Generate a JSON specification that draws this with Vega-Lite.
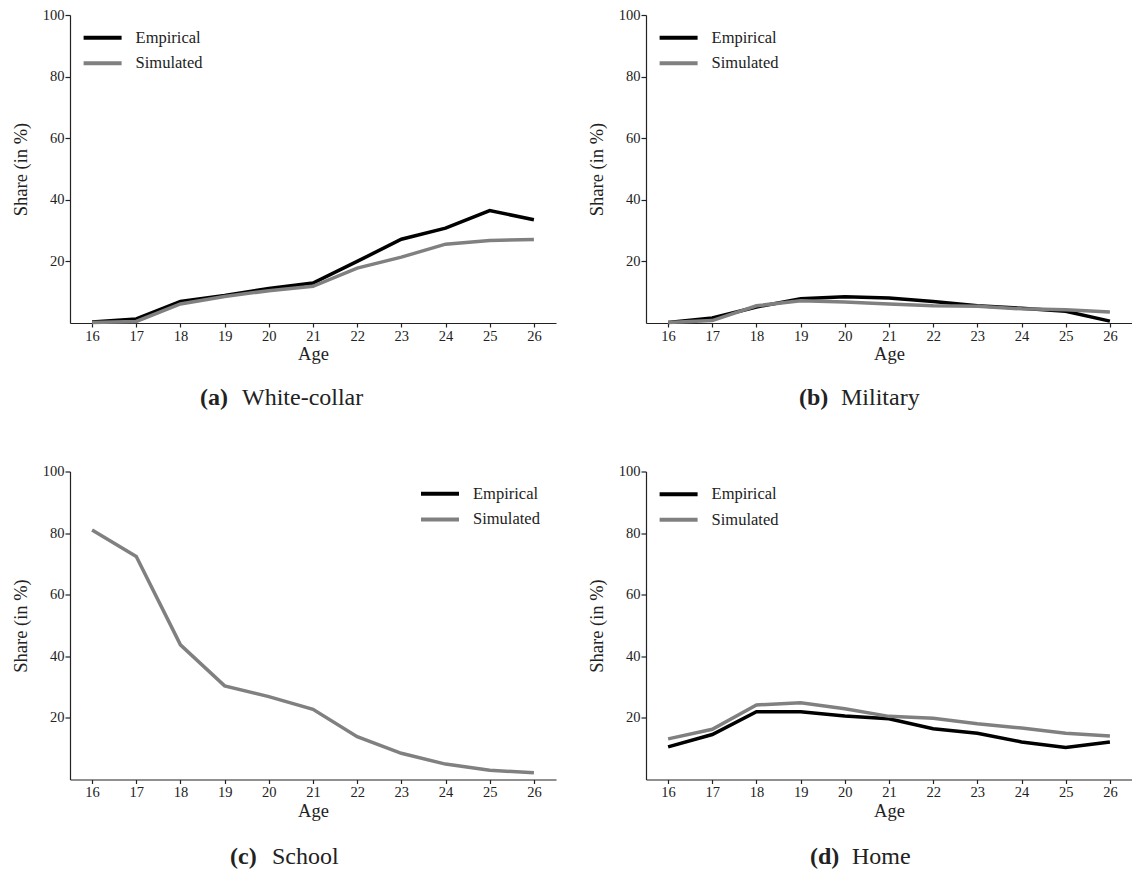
{
  "$schema": "https://vega.github.io/schema/vega-lite/v6.json",
  "padding": {"left": 11, "top": 7, "right": 0, "bottom": 0},
  "background": "white",
  "config": {
    "view": {"stroke": null},
    "font": "Liberation Serif",
    "axis": {
      "grid": false,
      "domainColor": "#222",
      "tickColor": "#222",
      "labelColor": "#222",
      "titleColor": "#222",
      "labelFont": "Liberation Serif",
      "titleFont": "Liberation Serif",
      "labelFontSize": 14.5,
      "titleFontSize": 18.5,
      "titleFontWeight": "normal",
      "domainWidth": 1.2,
      "tickWidth": 1.2
    },
    "axisX": {"tickSize": 4, "labelPadding": 2, "titlePadding": 2},
    "axisY": {"tickSize": 5, "labelPadding": 1, "titlePadding": 12},
    "legend": {
      "labelFont": "Liberation Serif",
      "labelFontSize": 16.5,
      "labelColor": "#222",
      "symbolType": "stroke",
      "symbolSize": 1444,
      "symbolStrokeWidth": 4,
      "labelOffset": 12,
      "padding": 0,
      "clipHeight": 20,
      "rowPadding": 5.6,
      "title": null
    },
    "title": {
      "font": "Liberation Serif",
      "subtitleFont": "Liberation Serif",
      "fontSize": 24,
      "subtitleFontSize": 24,
      "fontWeight": "bold",
      "subtitleFontWeight": "normal",
      "color": "#222",
      "subtitleColor": "#222"
    }
  },
  "datasets": {
    "shares": [
      {"panel": "White-collar", "series": "Empirical", "age": 16, "share": 0.3},
      {"panel": "White-collar", "series": "Empirical", "age": 17, "share": 1.3},
      {"panel": "White-collar", "series": "Empirical", "age": 18, "share": 7.0},
      {"panel": "White-collar", "series": "Empirical", "age": 19, "share": 8.9},
      {"panel": "White-collar", "series": "Empirical", "age": 20, "share": 11.2},
      {"panel": "White-collar", "series": "Empirical", "age": 21, "share": 13.0},
      {"panel": "White-collar", "series": "Empirical", "age": 22, "share": 20.0},
      {"panel": "White-collar", "series": "Empirical", "age": 23, "share": 27.2},
      {"panel": "White-collar", "series": "Empirical", "age": 24, "share": 30.8},
      {"panel": "White-collar", "series": "Empirical", "age": 25, "share": 36.5},
      {"panel": "White-collar", "series": "Empirical", "age": 26, "share": 33.5},
      {"panel": "White-collar", "series": "Simulated", "age": 16, "share": 0.2},
      {"panel": "White-collar", "series": "Simulated", "age": 17, "share": 0.5},
      {"panel": "White-collar", "series": "Simulated", "age": 18, "share": 6.2},
      {"panel": "White-collar", "series": "Simulated", "age": 19, "share": 8.6},
      {"panel": "White-collar", "series": "Simulated", "age": 20, "share": 10.5},
      {"panel": "White-collar", "series": "Simulated", "age": 21, "share": 11.9},
      {"panel": "White-collar", "series": "Simulated", "age": 22, "share": 17.8},
      {"panel": "White-collar", "series": "Simulated", "age": 23, "share": 21.4},
      {"panel": "White-collar", "series": "Simulated", "age": 24, "share": 25.6},
      {"panel": "White-collar", "series": "Simulated", "age": 25, "share": 26.8},
      {"panel": "White-collar", "series": "Simulated", "age": 26, "share": 27.1},
      {"panel": "Military", "series": "Empirical", "age": 16, "share": 0.2},
      {"panel": "Military", "series": "Empirical", "age": 17, "share": 1.6},
      {"panel": "Military", "series": "Empirical", "age": 18, "share": 5.2},
      {"panel": "Military", "series": "Empirical", "age": 19, "share": 7.9},
      {"panel": "Military", "series": "Empirical", "age": 20, "share": 8.5},
      {"panel": "Military", "series": "Empirical", "age": 21, "share": 8.1},
      {"panel": "Military", "series": "Empirical", "age": 22, "share": 7.0},
      {"panel": "Military", "series": "Empirical", "age": 23, "share": 5.6},
      {"panel": "Military", "series": "Empirical", "age": 24, "share": 4.8},
      {"panel": "Military", "series": "Empirical", "age": 25, "share": 3.8},
      {"panel": "Military", "series": "Empirical", "age": 26, "share": 0.6},
      {"panel": "Military", "series": "Simulated", "age": 16, "share": 0.2},
      {"panel": "Military", "series": "Simulated", "age": 17, "share": 0.8},
      {"panel": "Military", "series": "Simulated", "age": 18, "share": 5.6},
      {"panel": "Military", "series": "Simulated", "age": 19, "share": 7.2},
      {"panel": "Military", "series": "Simulated", "age": 20, "share": 6.8},
      {"panel": "Military", "series": "Simulated", "age": 21, "share": 6.2},
      {"panel": "Military", "series": "Simulated", "age": 22, "share": 5.6},
      {"panel": "Military", "series": "Simulated", "age": 23, "share": 5.4},
      {"panel": "Military", "series": "Simulated", "age": 24, "share": 4.6},
      {"panel": "Military", "series": "Simulated", "age": 25, "share": 4.3},
      {"panel": "Military", "series": "Simulated", "age": 26, "share": 3.6},
      {"panel": "School", "series": "Simulated", "age": 16, "share": 81.0},
      {"panel": "School", "series": "Simulated", "age": 17, "share": 72.4},
      {"panel": "School", "series": "Simulated", "age": 18, "share": 43.7},
      {"panel": "School", "series": "Simulated", "age": 19, "share": 30.4},
      {"panel": "School", "series": "Simulated", "age": 20, "share": 26.9},
      {"panel": "School", "series": "Simulated", "age": 21, "share": 22.8},
      {"panel": "School", "series": "Simulated", "age": 22, "share": 13.9},
      {"panel": "School", "series": "Simulated", "age": 23, "share": 8.5},
      {"panel": "School", "series": "Simulated", "age": 24, "share": 5.0},
      {"panel": "School", "series": "Simulated", "age": 25, "share": 3.0},
      {"panel": "School", "series": "Simulated", "age": 26, "share": 2.2},
      {"panel": "Home", "series": "Empirical", "age": 16, "share": 10.6},
      {"panel": "Home", "series": "Empirical", "age": 17, "share": 14.6},
      {"panel": "Home", "series": "Empirical", "age": 18, "share": 22.0},
      {"panel": "Home", "series": "Empirical", "age": 19, "share": 22.0},
      {"panel": "Home", "series": "Empirical", "age": 20, "share": 20.6},
      {"panel": "Home", "series": "Empirical", "age": 21, "share": 19.7},
      {"panel": "Home", "series": "Empirical", "age": 22, "share": 16.5},
      {"panel": "Home", "series": "Empirical", "age": 23, "share": 15.0},
      {"panel": "Home", "series": "Empirical", "age": 24, "share": 12.2},
      {"panel": "Home", "series": "Empirical", "age": 25, "share": 10.4},
      {"panel": "Home", "series": "Empirical", "age": 26, "share": 12.2},
      {"panel": "Home", "series": "Simulated", "age": 16, "share": 13.2},
      {"panel": "Home", "series": "Simulated", "age": 17, "share": 16.3},
      {"panel": "Home", "series": "Simulated", "age": 18, "share": 24.2},
      {"panel": "Home", "series": "Simulated", "age": 19, "share": 24.9},
      {"panel": "Home", "series": "Simulated", "age": 20, "share": 23.0},
      {"panel": "Home", "series": "Simulated", "age": 21, "share": 20.5},
      {"panel": "Home", "series": "Simulated", "age": 22, "share": 19.9},
      {"panel": "Home", "series": "Simulated", "age": 23, "share": 18.1},
      {"panel": "Home", "series": "Simulated", "age": 24, "share": 16.7},
      {"panel": "Home", "series": "Simulated", "age": 25, "share": 15.0},
      {"panel": "Home", "series": "Simulated", "age": 26, "share": 14.1}
    ]
  },
  "columns": 2,
  "spacing": {"row": 148.5, "column": 90},
  "bounds": "flush",
  "resolve": {"scale": {"color": "independent", "x": "independent", "y": "independent"}, "legend": {"color": "independent"}},
  "concat": [
    {
      "width": 486, "height": 308,
      "data": {"name": "shares"},
      "transform": [{"filter": "datum.panel === 'White-collar'"}],
      "title": {"text": "(a)", "subtitle": "\u200b\u00a0\u00a0\u00a0\u00a0\u00a0\u00a0\u00a0White-collar", "orient": "bottom", "anchor": "start", "frame": "group", "align": "left", "dx": 130, "offset": 23, "font": "Liberation Serif", "fontSize": 24, "fontWeight": "bold", "color": "#222", "subtitleFont": "Liberation Serif", "subtitleFontSize": 24, "subtitleFontWeight": "normal", "subtitleColor": "#222", "subtitlePadding": -24},
      "mark": {"type": "line", "strokeWidth": 3.5},
      "encoding": {
        "x": {"field": "age", "type": "quantitative", "scale": {"domain": [15.5, 26.5], "nice": false, "zero": false}, "axis": {"values": [16, 17, 18, 19, 20, 21, 22, 23, 24, 25, 26], "format": "d", "title": "Age"}},
        "y": {"field": "share", "type": "quantitative", "scale": {"domain": [0, 100], "nice": false}, "axis": {"values": [20, 40, 60, 80, 100], "title": "Share (in %)"}},
        "color": {"field": "series", "type": "nominal", "scale": {"domain": ["Empirical", "Simulated"], "range": ["#000000", "#808080"]}, "legend": {"orient": "none", "legendX": 11.6, "legendY": 12.7}}
      }
    },
    {
      "width": 486, "height": 308,
      "data": {"name": "shares"},
      "transform": [{"filter": "datum.panel === 'Military'"}],
      "title": {"text": "(b)", "subtitle": "\u200b\u00a0\u00a0\u00a0\u00a0\u00a0\u00a0\u00a0Military", "orient": "bottom", "anchor": "start", "frame": "group", "align": "left", "dx": 153, "offset": 23, "font": "Liberation Serif", "fontSize": 24, "fontWeight": "bold", "color": "#222", "subtitleFont": "Liberation Serif", "subtitleFontSize": 24, "subtitleFontWeight": "normal", "subtitleColor": "#222", "subtitlePadding": -24},
      "mark": {"type": "line", "strokeWidth": 3.5},
      "encoding": {
        "x": {"field": "age", "type": "quantitative", "scale": {"domain": [15.5, 26.5], "nice": false, "zero": false}, "axis": {"values": [16, 17, 18, 19, 20, 21, 22, 23, 24, 25, 26], "format": "d", "title": "Age"}},
        "y": {"field": "share", "type": "quantitative", "scale": {"domain": [0, 100], "nice": false}, "axis": {"values": [20, 40, 60, 80, 100], "title": "Share (in %)"}},
        "color": {"field": "series", "type": "nominal", "scale": {"domain": ["Empirical", "Simulated"], "range": ["#000000", "#808080"]}, "legend": {"orient": "none", "legendX": 11.6, "legendY": 12.7}}
      }
    },
    {
      "width": 486, "height": 308,
      "data": {"name": "shares"},
      "transform": [{"filter": "datum.panel === 'School'"}],
      "title": {"text": "(c)", "subtitle": "\u200b\u00a0\u00a0\u00a0\u00a0\u00a0\u00a0\u00a0School", "orient": "bottom", "anchor": "start", "frame": "group", "align": "left", "dx": 160, "offset": 25, "font": "Liberation Serif", "fontSize": 24, "fontWeight": "bold", "color": "#222", "subtitleFont": "Liberation Serif", "subtitleFontSize": 24, "subtitleFontWeight": "normal", "subtitleColor": "#222", "subtitlePadding": -24},
      "mark": {"type": "line", "strokeWidth": 3.5},
      "encoding": {
        "x": {"field": "age", "type": "quantitative", "scale": {"domain": [15.5, 26.5], "nice": false, "zero": false}, "axis": {"values": [16, 17, 18, 19, 20, 21, 22, 23, 24, 25, 26], "format": "d", "title": "Age"}},
        "y": {"field": "share", "type": "quantitative", "scale": {"domain": [0, 100], "nice": false}, "axis": {"values": [20, 40, 60, 80, 100], "title": "Share (in %)"}},
        "color": {"field": "series", "type": "nominal", "scale": {"domain": ["Empirical", "Simulated"], "range": ["#000000", "#808080"]}, "legend": {"orient": "none", "legendX": 349, "legendY": 12.3}}
      }
    },
    {
      "width": 486, "height": 308,
      "data": {"name": "shares"},
      "transform": [{"filter": "datum.panel === 'Home'"}],
      "title": {"text": "(d)", "subtitle": "\u200b\u00a0\u00a0\u00a0\u00a0\u00a0\u00a0\u00a0Home", "orient": "bottom", "anchor": "start", "frame": "group", "align": "left", "dx": 164, "offset": 25, "font": "Liberation Serif", "fontSize": 24, "fontWeight": "bold", "color": "#222", "subtitleFont": "Liberation Serif", "subtitleFontSize": 24, "subtitleFontWeight": "normal", "subtitleColor": "#222", "subtitlePadding": -24},
      "mark": {"type": "line", "strokeWidth": 3.5},
      "encoding": {
        "x": {"field": "age", "type": "quantitative", "scale": {"domain": [15.5, 26.5], "nice": false, "zero": false}, "axis": {"values": [16, 17, 18, 19, 20, 21, 22, 23, 24, 25, 26], "format": "d", "title": "Age"}},
        "y": {"field": "share", "type": "quantitative", "scale": {"domain": [0, 100], "nice": false}, "axis": {"values": [20, 40, 60, 80, 100], "title": "Share (in %)"}},
        "color": {"field": "series", "type": "nominal", "scale": {"domain": ["Empirical", "Simulated"], "range": ["#000000", "#808080"]}, "legend": {"orient": "none", "legendX": 11.6, "legendY": 12.7}}
      }
    }
  ]
}
